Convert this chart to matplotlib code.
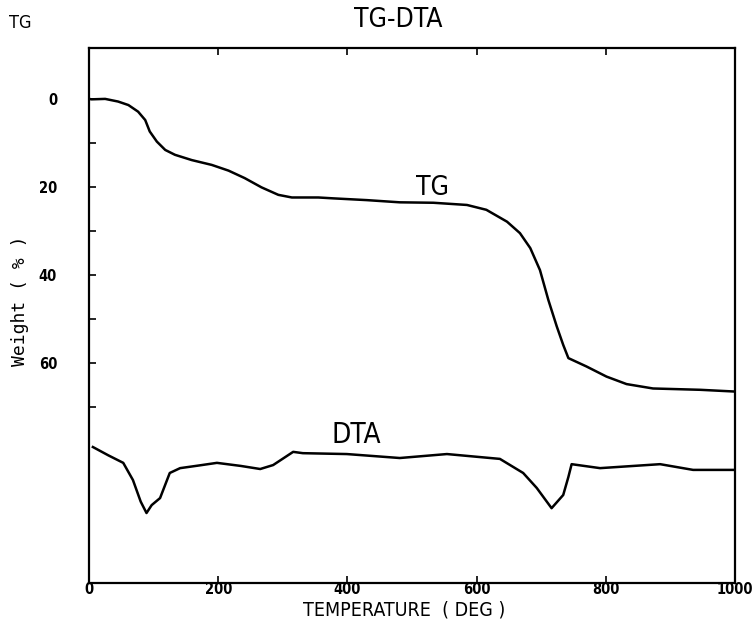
import matplotlib
matplotlib.use("Agg")
import matplotlib.pyplot as plt
from matplotlib.ticker import FixedLocator

# ── DATA ──────────────────────────────────────────────────────────────────────
# TG: weight loss (%) vs temperature
tg_temp = [0, 4, 25, 45, 61, 76, 87, 94, 105, 118, 133, 159, 190, 216, 241,
           267, 293, 314, 355, 378, 430, 481, 533, 585, 615, 647, 667, 683,
           698, 711, 724, 734, 742, 770, 801, 832, 873, 946, 1000]
tg_loss = [0.0, 0.1, 0.0, 0.6, 1.4, 2.9, 4.8, 7.4, 9.7, 11.6, 12.7, 13.9,
           15.0, 16.3, 18.0, 20.1, 21.8, 22.4, 22.4, 22.6, 23.0, 23.5, 23.6,
           24.1, 25.2, 27.9, 30.5, 33.9, 38.9, 45.7, 51.7, 55.9, 58.9, 60.8,
           63.1, 64.8, 65.8, 66.1, 66.5]

# DTA: drawn as an offset trace on the same frame (arbitrary units)
dta_temp = [6, 30, 53, 68, 80, 89, 97, 110, 125, 141, 170, 198, 235, 265, 285,
            316, 331, 399, 481, 554, 636, 672, 693, 716, 734, 742, 747, 791,
            884, 935, 1000]
dta_sig = [79.1, 81.0, 82.7, 86.6, 91.5, 94.1, 92.3, 90.7, 85.0, 83.9, 83.3,
           82.7, 83.4, 84.1, 83.2, 80.2, 80.5, 80.7, 81.6, 80.7, 81.8, 85.0,
           88.4, 93.0, 90.0, 85.9, 83.0, 83.9, 83.0, 84.3, 84.3]

x_ticks = [0, 200, 400, 600, 800, 1000]
y_ticks = [0, 20, 40, 60]
y_minor = [10, 30, 50, 70]

FONT = ["DejaVu Sans"]

def plotter_text(x, y, s, size, transform, **kw):
    # narrow, tall lettering like the old plotter output
    return plt.text(x, y, s, fontsize=size, family=FONT, stretch="condensed",
                    transform=transform, **kw)

# ── PLOT ──────────────────────────────────────────────────────────────────────
fig = plt.figure(figsize=(7.53, 6.23), dpi=100)
ax = fig.add_axes([0.1182, 0.0642, 0.858, 0.859])

ax.plot(tg_temp, tg_loss, color="black", linewidth=1.8)
ax.plot(dta_temp, dta_sig, color="black", linewidth=1.8)

ax.set_xlim(0, 1000)
ax.set_ylim(110, -11.6)

ax.xaxis.set_major_locator(FixedLocator(x_ticks))
ax.yaxis.set_major_locator(FixedLocator(y_ticks))
ax.yaxis.set_minor_locator(FixedLocator(y_minor))
ax.tick_params(axis="x", direction="in", top=True, length=5, width=1.2,
               pad=-1, labelsize=10.5)
ax.tick_params(axis="y", which="both", direction="in", length=5, width=1.2,
               pad=23, labelsize=10.5)
for lab in ax.get_xticklabels() + ax.get_yticklabels():
    lab.set_fontweight("bold")
    lab.set_family(FONT)
    lab.set_stretch("condensed")

for s in ax.spines.values():
    s.set_linewidth(1.6)

plotter_text(506, 21.8, "TG", 19, ax.transData, ha="left", va="baseline")
plotter_text(376, 78.2, "DTA", 20, ax.transData, ha="left", va="baseline")

plotter_text(0.529, 0.968, "TG-DTA", 19, fig.transFigure, ha="center", va="center")
plotter_text(0.027, 0.963, "TG", 13, fig.transFigure, ha="center", va="center")
fig.text(0.026, 0.518, "Weight ( % )", fontsize=13, family="DejaVu Sans Mono",
         rotation=90, ha="center", va="center")
plotter_text(0.537, 0.021, "TEMPERATURE  ( DEG )", 14, fig.transFigure,
             ha="center", va="center")

fig.savefig("out.png", dpi=100)
